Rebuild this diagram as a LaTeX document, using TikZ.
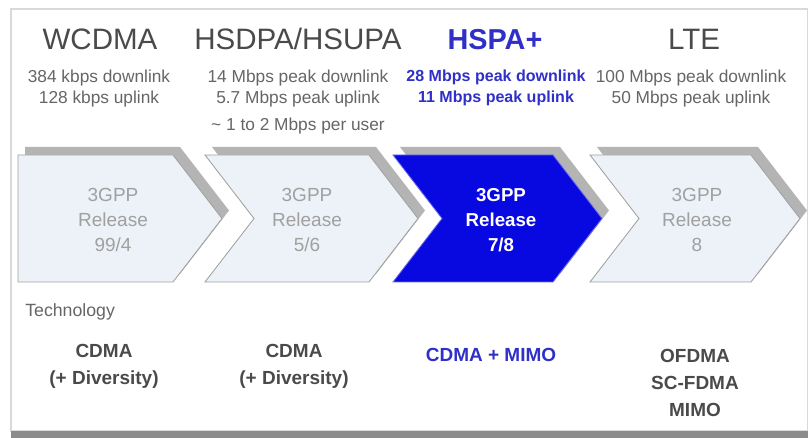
\documentclass[tikz,border=0pt]{standalone}
\usepackage{fontspec}
\setmainfont{Liberation Sans}
\definecolor{headgray}{HTML}{4A4A4A}
\definecolor{subgray}{HTML}{666666}
\definecolor{chevgray}{HTML}{A0A0A0}
\definecolor{chevfill}{HTML}{EDF2F8}
\definecolor{chevblue}{HTML}{0808E0}
\definecolor{textblue}{HTML}{3030C8}
\definecolor{shadowgray}{HTML}{B4B4B4}
\begin{document}
\begin{tikzpicture}[x=0.025cm,y=-0.025cm,
  heading/.style={anchor=base,inner sep=0pt,text=headgray,font=\fontsize{21}{24}\selectfont},
  rate/.style={anchor=north,inner sep=0pt,align=center,text=subgray,font=\fontsize{12.3}{14.5}\selectfont},
  release/.style={inner sep=0pt,align=center,text=chevgray,font=\fontsize{13.5}{17.8}\selectfont},
  tech/.style={inner sep=0pt,align=center,text=headgray,font=\bfseries\fontsize{13.5}{19}\selectfont},
  chevshadow/.style={fill=shadowgray,draw=none},
  chevlight/.style={fill=chevfill,draw=chevgray,line width=0.6pt},
  chevdark/.style={fill=chevblue,draw=chevblue!60,line width=0.6pt}]
  \useasboundingbox (0,0) rectangle (808,438);
  \fill[white] (0,0) rectangle (808,438);
  \draw[draw=black!15,line width=0.8pt] (11,9) rectangle (808,431);
  \fill[black!45] (11,431) rectangle (808,438);

  \fill[chevshadow,shift={(7,-8)}] (18,155) -- (173,155) -- (222,218.5) -- (173,282) -- (18,282) -- cycle;
  \fill[chevshadow,shift={(7,-8)}] (205,155) -- (369,155) -- (418,218.5) -- (369,282) -- (205,282) -- (254,218.5) -- cycle;
  \fill[chevshadow,shift={(7,-8)}] (393,155) -- (553,155) -- (602,218.5) -- (553,282) -- (393,282) -- (442,218.5) -- cycle;
  \fill[chevshadow,shift={(7,-8)}] (590,155) -- (751,155) -- (800,218.5) -- (751,282) -- (590,282) -- (639,218.5) -- cycle;

  \draw[chevlight] (18,155) -- (173,155) -- (222,218.5) -- (173,282) -- (18,282) -- cycle;
  \draw[chevlight] (205,155) -- (369,155) -- (418,218.5) -- (369,282) -- (205,282) -- (254,218.5) -- cycle;
  \draw[chevdark] (393,155) -- (553,155) -- (602,218.5) -- (553,282) -- (393,282) -- (442,218.5) -- cycle;
  \draw[chevlight] (590,155) -- (751,155) -- (800,218.5) -- (751,282) -- (590,282) -- (639,218.5) -- cycle;

  \node[heading] (wcdma) at (100,50) {WCDMA};
  \node[heading] (hsdpa) at (298,50) {HSDPA/HSUPA};
  \node[heading,text=textblue,font=\bfseries\fontsize{20.5}{24}\selectfont] (hspa) at (495,50) {HSPA+};
  \node[heading] (lte) at (694,50) {LTE};

  \node[rate] (wcdmarate) at (99,70) {384 kbps downlink\\128 kbps uplink};
  \node[rate] (hsdparate) at (298,70) {14 Mbps peak downlink\\5.7 Mbps peak uplink\\[5pt]\textasciitilde{} 1 to 2 Mbps per user};
  \node[rate,text=textblue,font=\bfseries\fontsize{11.4}{14.5}\selectfont] (hsparate) at (496,70) {28 Mbps peak downlink\\11 Mbps peak uplink};
  \node[rate] (lterate) at (691,70) {100 Mbps peak downlink\\50 Mbps peak uplink};

  \node[release] (rel1) at (113,220) {3GPP\\Release\\99/4};
  \node[release] (rel2) at (307,220) {3GPP\\Release\\5/6};
  \node[release,text=white,font=\bfseries\fontsize{13.3}{17.8}\selectfont] (rel3) at (501,220) {3GPP\\Release\\7/8};
  \node[release] (rel4) at (697,220) {3GPP\\Release\\8};

  \node[anchor=west,inner sep=0pt,text=subgray,font=\fontsize{12.6}{15}\selectfont] (techlabel) at (25,312) {Technology};
  \node[tech] (tech1) at (104,366) {CDMA\\(+ Diversity)};
  \node[tech] (tech2) at (294,366) {CDMA\\(+ Diversity)};
  \node[tech,text=textblue] (tech3) at (491,355) {CDMA + MIMO};
  \node[tech] (tech4) at (695,383) {OFDMA\\SC-FDMA\\MIMO};
\end{tikzpicture}
\end{document}
